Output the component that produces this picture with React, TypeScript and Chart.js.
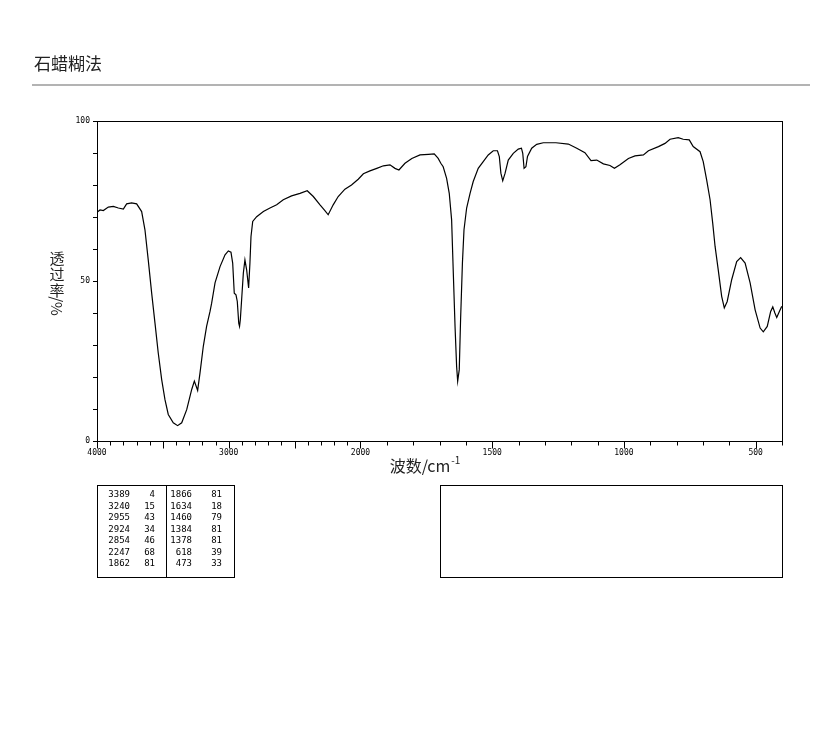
import React, { useEffect, useRef } from "react";
import { Chart, registerables } from "chart.js";

Chart.register(...registerables);

const titleText = "石蜡糊法";
const xAxisTitle = "波数/cm";
const xAxisSup = "-1";
const yAxisChars = ["透", "过", "率"];
const yAxisUnit = "/%";

const wavenumbers = [
  4000, 3977, 3952, 3914, 3876, 3838, 3800, 3775, 3737, 3699, 3661, 3636, 3611, 3585, 3560, 3535,
  3509, 3484, 3459, 3421, 3388, 3357, 3319, 3281, 3261, 3236, 3218, 3193, 3168, 3142, 3130, 3104,
  3066, 3028, 3003, 2983, 2970, 2958, 2945, 2935, 2924, 2918, 2912, 2902, 2889, 2877, 2864, 2849,
  2839, 2831, 2818, 2788, 2737, 2687, 2636, 2586, 2523, 2459, 2404, 2358, 2307, 2270, 2245, 2207,
  2169, 2118, 2068, 2017, 1989, 1964, 1938, 1913, 1888, 1869, 1854, 1831, 1805, 1774, 1742, 1720,
  1705, 1695, 1686, 1673, 1663, 1654, 1648, 1641, 1635, 1631, 1625, 1620, 1613, 1607, 1597, 1584,
  1572, 1553, 1534, 1515, 1496, 1480, 1473, 1467, 1460, 1451, 1439, 1420, 1401, 1389, 1384, 1379,
  1372, 1366, 1350, 1331, 1306, 1258, 1211, 1179, 1148, 1125, 1103, 1078, 1053, 1036, 1015, 983,
  958, 926, 907, 869, 844, 825, 794, 775, 752, 737, 711, 699, 686, 673, 663, 654,
  642, 629, 619, 608, 591, 572, 557, 540, 521, 502, 483, 471, 456, 443, 435, 427,
  420, 410, 401,
];

const transmittance = [
  71.5, 72.2, 72.0, 73.1, 73.3, 72.8, 72.5, 74.1, 74.4, 74.1, 71.7, 66.0, 56.6, 46.2, 36.9, 27.5,
  19.2, 12.9, 8.3, 5.7, 4.8, 5.7, 9.8, 16.1, 18.7, 15.8, 21.3, 29.6, 35.8, 40.5, 43.0, 49.4,
  54.5, 58.2, 59.4, 59.0, 55.6, 46.2, 45.7, 43.6, 36.8, 35.8, 37.9, 44.2, 52.5, 56.6, 53.5, 47.8,
  55.6, 63.9, 68.6, 70.1, 71.7, 72.8, 73.8, 75.4, 76.6, 77.4, 78.2, 76.4, 73.8, 72.0, 70.7, 73.8,
  76.4, 78.7, 80.0, 81.8, 83.5, 84.4, 85.2, 86.0, 86.3, 85.2, 84.7, 86.8, 88.3, 89.4, 89.6, 89.7,
  88.3, 86.8, 85.7, 82.1, 77.4, 69.1, 53.5, 35.8, 23.3, 18.7, 22.3, 37.9, 55.6, 66.0, 72.8, 77.4,
  81.1, 85.2, 87.3, 89.4, 90.7, 90.7, 88.9, 83.7, 81.3, 83.7, 87.8, 89.9, 91.2, 91.5, 89.9, 85.2,
  85.7, 88.9, 91.5, 92.7, 93.2, 93.2, 92.8, 91.5, 90.1, 87.6, 87.8, 86.6, 86.1, 85.2, 86.3, 88.3,
  89.1, 89.4, 90.7, 92.0, 93.0, 94.3, 94.8, 94.3, 94.1, 92.0, 90.4, 87.3, 81.6, 75.4, 68.1, 60.8,
  53.5, 45.2, 41.6, 43.6, 50.4, 56.1, 57.3, 55.6, 49.4, 41.0, 35.3, 34.1, 35.8, 40.5, 41.9, 40.0,
  38.6, 40.5, 42.1,
];

const xTickWavenumbers = [4000, 3000, 2000, 1500, 1000, 500];
const yTickLabels = [0, 50, 100];

const peakWavenumbers = [3389, 3240, 2955, 2924, 2854, 2247, 1862, 1866, 1634, 1460, 1384, 1378, 618, 473];
const peakTransmittance = [4, 15, 43, 34, 46, 68, 81, 81, 18, 79, 81, 81, 39, 33];

// axis with a scale change at 2000 cm-1 (region above 2000 compressed 2x)
const toPos = (w: number) => (w >= 2000 ? (4000 - w) / 2 : 1000 + (2000 - w));
const fromPos = (p: number) => (p <= 1000 ? 4000 - 2 * p : 3000 - p);

const CJK = '"Noto Sans CJK SC", "Noto Sans", sans-serif';
const MONO = '"DejaVu Sans Mono", monospace';

const decor = {
  id: "decor",
  afterDraw(chart: any) {
    const ctx = chart.ctx as CanvasRenderingContext2D;
    const { left, top, right, bottom } = chart.chartArea;
    const xs = chart.scales.x;
    ctx.save();
    ctx.strokeStyle = "#000";
    ctx.lineWidth = 1;
    // plot box
    const L = Math.round(left) + 0.5;
    const T = Math.round(top) + 0.5;
    const R = Math.round(right) + 0.5;
    const B = Math.round(bottom) + 0.5;
    ctx.strokeRect(L, T, R - L, B - T);
    // x tick marks
    for (let w = 4000; w >= 400; w -= 100) {
      const px = Math.round(xs.getPixelForValue(toPos(w))) + 0.5;
      const len = w % 500 === 0 ? 7 : 4;
      ctx.beginPath();
      ctx.moveTo(px, B);
      ctx.lineTo(px, B + len);
      ctx.stroke();
    }

    // title
    ctx.fillStyle = "#222";
    ctx.font = `17px ${CJK}`;
    ctx.textAlign = "left";
    ctx.textBaseline = "middle";
    ctx.fillText(titleText, 34, 64);
    // rule
    ctx.strokeStyle = "#9a9a9a";
    ctx.lineWidth = 1.5;
    ctx.beginPath();
    ctx.moveTo(32, 85);
    ctx.lineTo(810, 85);
    ctx.stroke();

    // x axis title
    ctx.fillStyle = "#222";
    ctx.font = `16px ${CJK}`;
    const w1 = ctx.measureText(xAxisTitle).width;
    ctx.font = `10px ${CJK}`;
    const w2 = ctx.measureText(xAxisSup).width;
    const x0 = 425 - (w1 + w2 + 1) / 2;
    ctx.font = `16px ${CJK}`;
    ctx.textAlign = "left";
    ctx.textBaseline = "middle";
    ctx.fillText(xAxisTitle, x0, 466);
    ctx.font = `10px ${CJK}`;
    ctx.fillText(xAxisSup, x0 + w1 + 1, 460);

    // y axis title (vertical)
    ctx.font = `15px ${CJK}`;
    ctx.textAlign = "center";
    yAxisChars.forEach((c, i) => ctx.fillText(c, 57, 258 + i * 16));
    ctx.save();
    ctx.translate(57, 306);
    ctx.rotate(Math.PI / 2);
    ctx.fillText(yAxisUnit, 0, 0);
    ctx.restore();

    // peak table
    ctx.strokeStyle = "#000";
    ctx.lineWidth = 1;
    ctx.strokeRect(97.5, 485.5, 137, 92);
    ctx.beginPath();
    ctx.moveTo(166.5, 485.5);
    ctx.lineTo(166.5, 577.5);
    ctx.stroke();
    ctx.strokeRect(440.5, 485.5, 342, 92);

    ctx.fillStyle = "#000";
    ctx.font = `9px ${MONO}`;
    ctx.textAlign = "right";
    ctx.textBaseline = "middle";
    const half = Math.ceil(peakWavenumbers.length / 2);
    for (let i = 0; i < peakWavenumbers.length; i++) {
      const col = i < half ? 0 : 1;
      const row = i % half;
      const y = 495 + row * 11.5;
      const xw = col === 0 ? 130 : 192;
      const xt = col === 0 ? 155 : 222;
      ctx.fillText(String(peakWavenumbers[i]), xw, y);
      ctx.fillText(String(peakTransmittance[i]), xt, y);
    }
    ctx.restore();
  },
};

export default function App() {
  const ref = useRef<HTMLCanvasElement | null>(null);
  useEffect(() => {
    if (!ref.current) return;
    const chart = new Chart(ref.current, {
      type: "line",
      data: {
        datasets: [
          {
            data: wavenumbers.map((w, i) => ({ x: toPos(w), y: transmittance[i] })),
            borderColor: "#000",
            borderWidth: 1.2,
            pointRadius: 0,
            tension: 0,
            fill: false,
          },
        ],
      },
      options: {
        animation: false,
        responsive: false,
        devicePixelRatio: 1,
        layout: { padding: { left: 57, top: 121, right: 40, bottom: 266 } },
        plugins: { legend: { display: false }, tooltip: { enabled: false }, title: { display: false } },
        scales: {
          x: {
            type: "linear",
            min: 0,
            max: 2600,
            afterBuildTicks: (s: any) => {
              s.ticks = xTickWavenumbers.map((w) => ({ value: toPos(w) }));
            },
            afterFit: (s: any) => {
              s.height = 30;
            },
            grid: { display: false, drawTicks: false },
            border: { display: false },
            ticks: {
              padding: 7,
              maxRotation: 0,
              autoSkip: false,
              color: "#000",
              font: { family: "DejaVu Sans Mono", size: 8 },
              callback: (v: any) => String(fromPos(Number(v))),
            },
          },
          y: {
            min: 0,
            max: 100,
            afterFit: (s: any) => {
              s.width = 40;
            },
            grid: { drawOnChartArea: false, drawTicks: true, tickLength: 4, color: "#000" },
            border: { display: false },
            ticks: {
              stepSize: 10,
              autoSkip: false,
              padding: 3,
              color: "#000",
              font: { family: "DejaVu Sans Mono", size: 8 },
              callback: (v: any) => (yTickLabels.includes(Number(v)) ? String(v) : ""),
            },
          },
        },
      },
      plugins: [decor],
    } as any);
    return () => chart.destroy();
  }, []);
  return (
    <canvas
      ref={ref}
      width={822}
      height={737}
      style={{ position: "fixed", left: 0, top: 0, width: 822, height: 737, background: "#fff" }}
    />
  );
}
